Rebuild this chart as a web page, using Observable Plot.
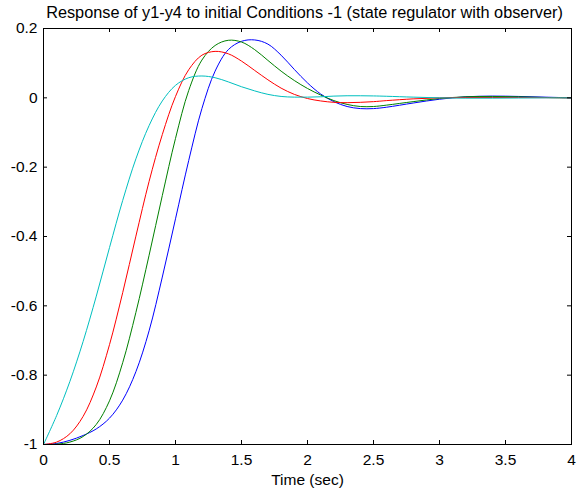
<!DOCTYPE html>
<html><head><meta charset="utf-8">
<script src="https://cdn.jsdelivr.net/npm/d3@7"></script>
<script src="https://cdn.jsdelivr.net/npm/@observablehq/plot@0.6"></script>
<style>
body{margin:0;background:#fff;font-family:"Liberation Sans",Arial,sans-serif;}
#title{height:20px;line-height:24px;font-size:16.3px;text-align:center;padding-left:38px;padding-right:6px;white-space:nowrap;color:#000;overflow:visible;}
#chart svg{display:block;}
</style></head><body>
<div id="title">Response of y1-y4 to initial Conditions -1 (state regulator with observer)</div>
<div id="chart"></div>
<script>
const time = [0,0.1,0.2,0.3,0.4,0.5,0.6,0.7,0.8,0.9,1.0,1.1,1.2,1.3,1.4,1.5,1.6,1.7,1.8,1.9,2.0,2.1,2.2,2.3,2.4,2.5,2.6,2.8,3.0,3.2,3.4,3.6,3.8,4.0];
const y1 = [-1,-0.997,-0.988,-0.974,-0.955,-0.924,-0.872,-0.79,-0.672,-0.517,-0.349,-0.181,-0.031,0.077,0.139,0.163,0.167,0.155,0.123,0.082,0.043,0.011,-0.011,-0.025,-0.031,-0.031,-0.027,-0.015,-0.004,0.003,0.005,0.004,0.002,0.0];
const y2 = [-1,-0.999,-0.993,-0.977,-0.942,-0.874,-0.764,-0.619,-0.454,-0.282,-0.117,0.021,0.109,0.151,0.166,0.161,0.139,0.108,0.077,0.05,0.027,0.008,-0.008,-0.019,-0.025,-0.025,-0.021,-0.011,-0.002,0.003,0.004,0.003,0.001,0.0];
const y3 = [-1,-0.993,-0.969,-0.919,-0.834,-0.712,-0.562,-0.399,-0.241,-0.106,0.004,0.081,0.123,0.134,0.127,0.106,0.079,0.052,0.028,0.01,-0.002,-0.009,-0.013,-0.014,-0.013,-0.011,-0.008,-0.003,0.0,0.001,0.001,0.001,0.0005,0.0];
const y4 = [-1,-0.916,-0.818,-0.703,-0.572,-0.432,-0.296,-0.176,-0.08,-0.009,0.036,0.058,0.063,0.058,0.046,0.032,0.02,0.01,0.004,0.002,0.002,0.003,0.005,0.006,0.006,0.0055,0.0045,0.002,0.0,-0.001,-0.001,-0.0005,0.0,0.0];
const seriesNames = ["y1","y2","y3","y4"];
const seriesColors = ["#0000ff","#008000","#ff0000","#00bfbf"];
const xTicks = [0,0.5,1,1.5,2,2.5,3,3.5,4];
const yTicks = [-1,-0.8,-0.6,-0.4,-0.2,0,0.2];
const xLabel = "Time (sec)";

const data = [];
[y1,y2,y3,y4].forEach((ys,i)=> ys.forEach((v,j)=> data.push({t:time[j], y:v, s:seriesNames[i]})));

const W=577, H=470, mt=8, mb=46, ml=43, mr=6;
const innerH = H-mt-mb, innerW = W-ml-mr;
const chart = Plot.plot({
  width: W, height: H, marginTop: mt, marginBottom: mb, marginLeft: ml, marginRight: mr,
  style: {fontFamily: '"Liberation Sans", Arial, sans-serif', fontSize: "15.5px", color: "#000", background: "#fff"},
  x: {domain: [0,4]},
  y: {domain: [-1,0.2]},
  color: {domain: seriesNames, range: seriesColors},
  marks: [
    Plot.lineY(data, {x: "t", y: "y", stroke: "s", strokeWidth: 1, curve: "catmull-rom"}),
    Plot.tickX(xTicks, {x: d=>d, insetTop: innerH-4, stroke: "#000"}),
    Plot.tickX(xTicks, {x: d=>d, insetBottom: innerH-4, stroke: "#000"}),
    Plot.tickY(yTicks, {y: d=>d, insetRight: innerW-4, stroke: "#000"}),
    Plot.tickY(yTicks, {y: d=>d, insetLeft: innerW-4, stroke: "#000"}),
    Plot.frame({stroke: "#000"}),
    Plot.axisX(xTicks, {tickSize: 0, tickPadding: 9, tickFormat: d=>String(d), label: null}),
    Plot.axisY(yTicks, {tickSize: 0, tickPadding: 6, tickFormat: d=>String(d), label: null}),
    Plot.text([xLabel], {frameAnchor: "bottom", dy: 40, text: d=>d, fontSize: 15.5})
  ]
});
document.getElementById("chart").appendChild(chart);
</script>
</body></html>
